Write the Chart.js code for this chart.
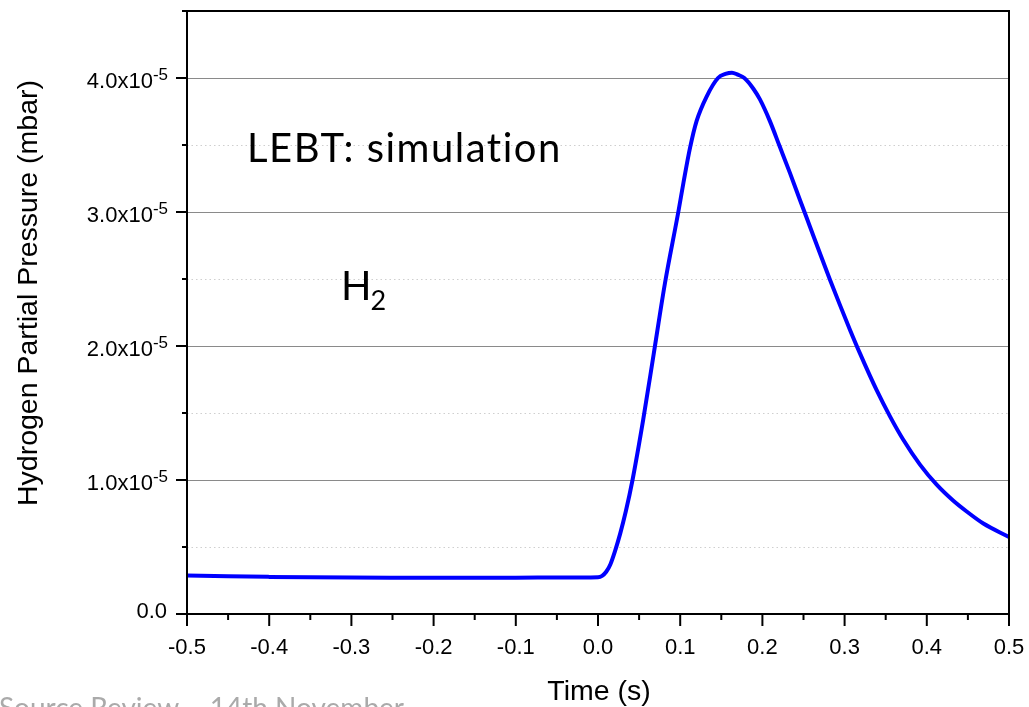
<!DOCTYPE html>
<html>
<head>
<meta charset="utf-8">
<script src="https://cdn.jsdelivr.net/npm/chart.js@4.4.1/dist/chart.umd.min.js"></script>
<style>
  html, body { margin: 0; padding: 0; background: #fff; }
  #wrap { width: 1029px; height: 707px; position: relative; }
</style>
</head>
<body>
<div id="wrap"><canvas id="pressureChart"></canvas></div>
<script>
// time axis (s)
const timeS = [-0.5, -0.45, -0.4, -0.35, -0.3, -0.25, -0.2, -0.15, -0.1, -0.05,
  0, 0.005, 0.01, 0.015, 0.0207, 0.027, 0.034, 0.042, 0.055, 0.068, 0.0815, 0.0977,
  0.104, 0.112, 0.12, 0.132, 0.146, 0.155, 0.163, 0.17, 0.178, 0.189, 0.197,
  0.209, 0.221, 0.2336, 0.2457, 0.2579, 0.2701, 0.2822, 0.2944, 0.3066, 0.3187,
  0.339, 0.3552, 0.3714, 0.3917, 0.412, 0.4323, 0.4485, 0.4688, 0.5];
// H2 partial pressure, in units of 1e-5 mbar
const pressureE5 = [0.287, 0.281, 0.277, 0.274, 0.272, 0.271, 0.271, 0.271, 0.271, 0.272,
  0.275, 0.285, 0.315, 0.37, 0.47, 0.6, 0.77, 1.0, 1.45, 1.95, 2.47, 3.0,
  3.22, 3.48, 3.68, 3.86, 4.0, 4.03, 4.04, 4.025, 4.0, 3.92, 3.84,
  3.68, 3.49, 3.29, 3.09, 2.89, 2.69, 2.495, 2.305, 2.12, 1.945,
  1.67, 1.475, 1.3, 1.115, 0.965, 0.845, 0.765, 0.675, 0.575];

const xTickLabels = ['-0.5', '-0.4', '-0.3', '-0.2', '-0.1', '0.0', '0.1', '0.2', '0.3', '0.4', '0.5'];
const yTickLabels = ['0.0', '1.0', '2.0', '3.0', '4.0'];

const AXIS_FONT = '22px "Liberation Sans", Arial, sans-serif';
const SUP_FONT = '17px "Liberation Sans", Arial, sans-serif';
const TITLE_FONT = '28.5px "Liberation Sans", Arial, sans-serif';

function isWhole(v, step) {
  const k = v / step;
  return Math.abs(k - Math.round(k)) < 1e-6;
}

// axes frame, ticks, labels and the notes on the plot
const decorations = {
  id: 'decorations',
  afterDraw(chart) {
    const { ctx, chartArea: a, scales: { x, y } } = chart;
    ctx.save();
    ctx.strokeStyle = '#000';
    ctx.fillStyle = '#000';
    ctx.lineWidth = 2;
    ctx.strokeRect(a.left, a.top, a.right - a.left, a.bottom - a.top);

    // x ticks
    ctx.font = AXIS_FONT;
    ctx.textAlign = 'center';
    ctx.textBaseline = 'alphabetic';
    x.ticks.forEach(t => {
      const px = x.getPixelForValue(t.value);
      const major = isWhole(t.value, 0.1);
      ctx.beginPath();
      ctx.moveTo(px, a.bottom);
      ctx.lineTo(px, a.bottom + (major ? 12 : 6));
      ctx.stroke();
    });
    xTickLabels.forEach(lbl => {
      ctx.fillText(lbl, x.getPixelForValue(parseFloat(lbl)), 654);
    });

    // y ticks
    y.ticks.forEach(t => {
      const py = y.getPixelForValue(t.value);
      const major = isWhole(t.value, 1);
      ctx.beginPath();
      ctx.moveTo(a.left, py);
      ctx.lineTo(a.left - (major ? 11 : 5), py);
      ctx.stroke();
    });
    const labelRight = a.left - 20;
    ctx.textAlign = 'right';
    yTickLabels.forEach(lbl => {
      const v = parseFloat(lbl);
      const py = y.getPixelForValue(v);
      if (v === 0) {
        ctx.font = AXIS_FONT;
        ctx.fillText(lbl, labelRight, py + 4);
        return;
      }
      ctx.font = SUP_FONT;
      const supW = ctx.measureText('-5').width;
      ctx.fillText('-5', labelRight + 1, py + 2);
      ctx.font = AXIS_FONT;
      ctx.fillText(lbl + 'x10', labelRight - supW + 1, py + 10);
    });

    // axis titles
    ctx.font = TITLE_FONT;
    ctx.textAlign = 'center';
    ctx.fillText('Time (s)', 599, 700);
    ctx.save();
    ctx.translate(29, 293);
    ctx.rotate(-Math.PI / 2);
    ctx.textBaseline = 'middle';
    ctx.fillText('Hydrogen Partial Pressure (mbar)', 0, 0);
    ctx.restore();

    // notes
    ctx.textAlign = 'left';
    ctx.textBaseline = 'alphabetic';
    ctx.font = '40px Lato, "Open Sans", sans-serif';
    ctx.letterSpacing = '1.5px';
    ctx.fillText('LEBT: simula\u200Ction', 247, 162);
    ctx.letterSpacing = '0px';
    ctx.fillText('H', 341, 300);
    const hW = ctx.measureText('H').width;
    ctx.font = '27px Lato, "Open Sans", sans-serif';
    ctx.fillText('2', 341 + hW - 1, 310);

    // slide footer, cut by the bottom edge
    ctx.fillStyle = '#aaaaaa';
    ctx.font = '28px Lato, "Open Sans", sans-serif';
    ctx.fillText('Source Review \u2013 14th November', -1, 718);
    ctx.restore();
  }
};

const ctx = document.getElementById('pressureChart').getContext('2d');

new Chart(ctx, {
  type: 'line',
  data: {
    datasets: [{
      label: 'H2',
      data: timeS.map((t, i) => ({ x: t, y: pressureE5[i] })),
      borderColor: '#0000ff',
      borderWidth: 4,
      pointRadius: 0,
      fill: false,
      cubicInterpolationMode: 'monotone'
    }]
  },
  options: {
    responsive: true,
    maintainAspectRatio: false,
    animation: false,
    layout: { padding: { top: 11, right: 20, left: 0, bottom: 0 } },
    plugins: {
      legend: { display: false },
      tooltip: { enabled: false }
    },
    scales: {
      x: {
        type: 'linear',
        min: -0.5,
        max: 0.5,
        ticks: { display: false, stepSize: 0.05 },
        grid: { drawOnChartArea: false, drawTicks: false },
        border: { display: false },
        afterFit: s => { s.height = 93; }
      },
      y: {
        min: 0,
        max: 4.5,
        ticks: { display: false, stepSize: 0.5 },
        grid: {
          drawTicks: false,
          color: c => (c.tick && isWhole(c.tick.value, 1)) ? '#8a8a8a' : '#cfcfcf',
          lineWidth: c => (c.tick && (c.tick.value === 0 || c.tick.value === 4.5)) ? 0 : 1
        },
        border: {
          display: false,
          dash: c => (c.tick && !isWhole(c.tick.value, 1)) ? [1.5, 3] : []
        },
        afterFit: s => { s.width = 187; }
      }
    }
  },
  plugins: [decorations]
});
</script>
</body>
</html>
